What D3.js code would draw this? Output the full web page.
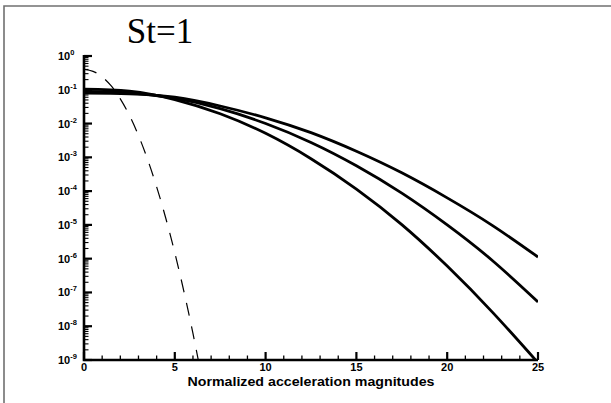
<!DOCTYPE html>
<html>
<head>
<meta charset="utf-8">
<script src="https://cdn.jsdelivr.net/npm/d3@7"></script>
<style>
  body { margin: 0; background: #fff; }
  svg { display: block; }
</style>
</head>
<body>
<div id="chart"></div>
<script>
// values
var xs = [0, 2.5, 5, 7.5, 10, 12.5, 15, 17.5, 20, 22.5, 25];

var curveTop = [0.0794, 0.0759, 0.0603, 0.0331, 0.0148, 5.37e-3, 1.51e-3, 3.47e-4, 6.31e-5, 9.55e-6, 1.12e-6];
var curveMid = [0.0891, 0.0813, 0.0562, 0.0275, 0.0100, 2.75e-3, 5.62e-4, 8.71e-5, 1.0e-5, 8.71e-7, 5.25e-8];
var curveLow = [0.105, 0.0912, 0.0513, 0.0195, 5.13e-3, 9.12e-4, 1.15e-4, 1.02e-5, 6.03e-7, 2.57e-8, 8.3e-10];

var gaussX = [0, 0.5, 1, 1.5, 2, 2.5, 3, 3.5, 4, 4.5, 5, 5.5, 6, 6.5];
var gaussY = [0.399, 0.352, 0.242, 0.1295, 0.054, 0.0175, 4.43e-3, 8.7e-4, 1.34e-4, 1.6e-5, 1.49e-6, 1.08e-7, 6.1e-9, 2.7e-10];

var xTicks = [0, 5, 10, 15, 20, 25];
var yExponents = [0, -1, -2, -3, -4, -5, -6, -7, -8, -9];

var width = 611, height = 403;
var plotLeft = 84, plotRight = 538, plotTop = 56, plotBottom = 360;

var svg = d3.select("#chart").append("svg")
    .attr("width", width)
    .attr("height", height);

// outer frame (top and left edges only)
svg.append("path")
    .attr("d", "M4,403V6H611")
    .attr("fill", "none")
    .attr("stroke", "#707070")
    .attr("stroke-width", 1.6);

var x = d3.scaleLinear().domain([0, 25]).range([plotLeft, plotRight]);
var y = d3.scaleLog().domain([1e-9, 1]).range([plotBottom, plotTop]);

svg.append("defs").append("clipPath").attr("id", "plot")
  .append("rect")
    .attr("x", plotLeft).attr("y", plotTop)
    .attr("width", plotRight - plotLeft).attr("height", plotBottom - plotTop);

var line = d3.line()
    .x(function(d) { return x(d[0]); })
    .y(function(d) { return y(d[1]); })
    .curve(d3.curveNatural);

var plot = svg.append("g").attr("clip-path", "url(#plot)");

[curveTop, curveMid, curveLow].forEach(function(vals) {
  plot.append("path")
      .datum(xs.map(function(v, i) { return [v, vals[i]]; }))
      .attr("d", line)
      .attr("fill", "none")
      .attr("stroke", "#000")
      .attr("stroke-width", 2.8);
});

plot.append("path")
    .datum(gaussX.map(function(v, i) { return [v, gaussY[i]]; }))
    .attr("d", line)
    .attr("fill", "none")
    .attr("stroke", "#000")
    .attr("stroke-width", 1.2)
    .attr("stroke-dasharray", "13,11");

// x axis: ticks point up into the plot
var xMinor = d3.range(0, 26, 1);
svg.append("g").selectAll("line")
    .data(xMinor)
    .enter().append("line")
    .attr("x1", function(d) { return x(d); })
    .attr("x2", function(d) { return x(d); })
    .attr("y1", plotBottom)
    .attr("y2", function(d) { return d % 5 === 0 ? plotBottom - 8 : plotBottom - 4.5; })
    .attr("stroke", "#000")
    .attr("stroke-width", function(d) { return d % 5 === 0 ? 2.2 : 1.3; });

svg.append("g").selectAll("text")
    .data(xTicks)
    .enter().append("text")
    .attr("x", function(d) { return x(d); })
    .attr("y", plotBottom + 11)
    .attr("text-anchor", "middle")
    .attr("font-family", "Liberation Sans, Arial, sans-serif")
    .attr("font-weight", "bold")
    .attr("font-size", 11)
    .text(function(d) { return d; });

// y axis: major and minor log ticks point right
var yMinor = [];
yExponents.forEach(function(e) {
  if (e === 0) return;
  for (var k = 1; k <= 9; k++) yMinor.push(k * Math.pow(10, e));
});
yMinor.push(1);

function isMajor(d) {
  return Math.abs(Math.log10(d) - Math.round(Math.log10(d))) < 1e-9;
}

svg.append("g").selectAll("line")
    .data(yMinor)
    .enter().append("line")
    .attr("x1", plotLeft)
    .attr("x2", function(d) { return isMajor(d) ? plotLeft + 8 : plotLeft + 4.5; })
    .attr("y1", function(d) { return y(d); })
    .attr("y2", function(d) { return y(d); })
    .attr("stroke", "#000")
    .attr("stroke-width", function(d) { return isMajor(d) ? 2.2 : 1.1; });

var yLabels = svg.append("g").selectAll("text")
    .data(yExponents)
    .enter().append("text")
    .attr("x", 58)
    .attr("y", function(d) { return y(Math.pow(10, d)) + 4; })
    .attr("font-family", "Liberation Sans, Arial, sans-serif")
    .attr("font-weight", "bold")
    .attr("font-size", 11);

yLabels.append("tspan").text("10");
yLabels.append("tspan")
    .attr("dy", -5)
    .attr("font-size", 7.5)
    .text(function(d) { return d === 0 ? "0" : "-" + Math.abs(d); });

// axis lines
svg.append("path")
    .attr("d", "M" + plotLeft + "," + (plotTop - 1) + "V" + plotBottom + "H" + plotRight)
    .attr("fill", "none")
    .attr("stroke", "#000")
    .attr("stroke-width", 2.6);

svg.append("text")
    .attr("x", 311)
    .attr("y", 385.5)
    .attr("text-anchor", "middle")
    .attr("font-family", "Liberation Sans, Arial, sans-serif")
    .attr("font-weight", "bold")
    .attr("font-size", 12.5)
    .attr("textLength", 247)
    .attr("lengthAdjust", "spacingAndGlyphs")
    .text("Normalized acceleration magnitudes");

svg.append("text")
    .attr("x", 160)
    .attr("y", 43)
    .attr("text-anchor", "middle")
    .attr("font-family", "Liberation Serif, Times New Roman, serif")
    .attr("font-size", 35)
    .text("St=1");
</script>
</body>
</html>
